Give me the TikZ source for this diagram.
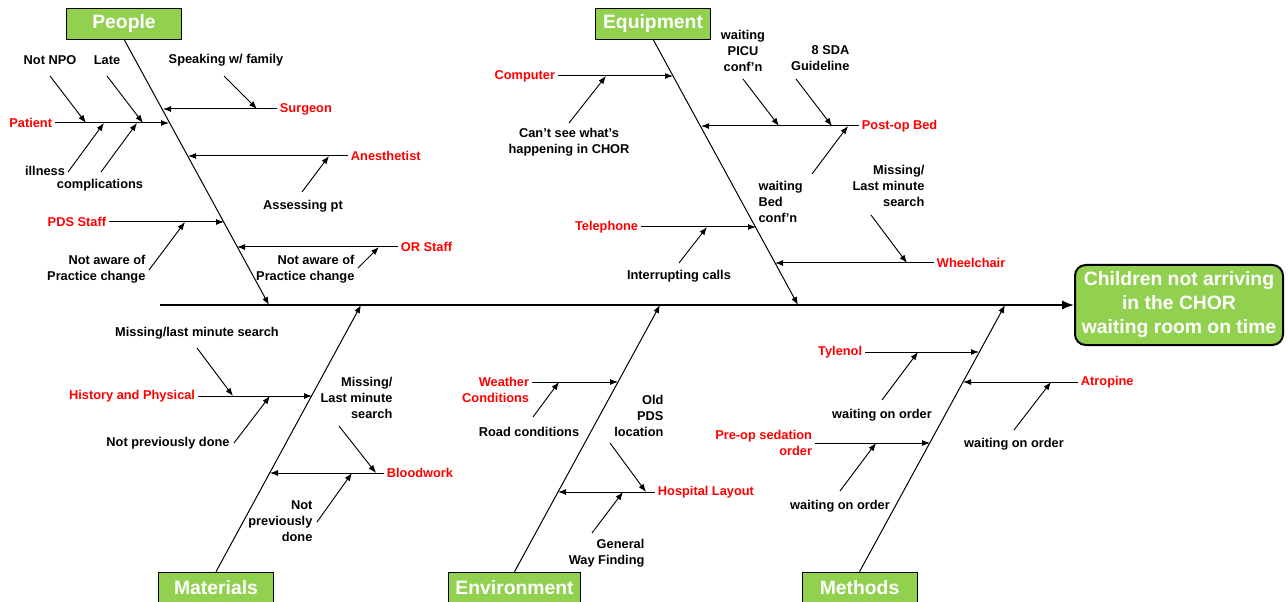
\documentclass[tikz,border=0pt]{standalone}
\usepackage{fontspec}
\setmainfont{Liberation Sans}
\usepackage{tikz}
\usetikzlibrary{arrows.meta,positioning}
\definecolor{boxgreen}{RGB}{146,208,80}
\tikzset{>={Latex[length=6pt,width=4.5pt]}}

\begin{document}
\begin{tikzpicture}[x=0.75pt,y=-0.75pt,
    cat/.style={draw,fill=boxgreen,text=white,font=\bfseries\fontsize{14.5}{18}\selectfont,minimum width=86.25pt,minimum height=23.25pt,inner ysep=0pt,inner xsep=5pt},
    effect/.style={draw,line width=1.5pt,rounded corners=8pt,fill=boxgreen,text=white,align=center,font=\bfseries\fontsize{14.5}{18}\selectfont,minimum width=156pt,minimum height=60pt,inner sep=0pt},
    cause/.style={text=red,font=\bfseries\fontsize{9.6}{12}\selectfont,inner sep=2pt},
    sub/.style={font=\bfseries\fontsize{9.6}{12}\selectfont,inner sep=1pt},
    spine/.style={-{Latex[length=9pt,width=7pt]},line width=1.5pt},
    bone/.style={->,line width=0.75pt},
    branch/.style={->,line width=0.75pt},
    twig/.style={->,line width=0.7pt}]
    \useasboundingbox (0,0) rectangle (1288,602);

    % head and spine
    \node[effect] (effect) at (1179,305) {Children not arriving\\in the CHOR\\waiting room on time};
    \coordinate (tail) at (160,305);
    \draw[spine] (tail) -- (effect.west);

    % People
    \node[cat] (people) at (124,23.5) {People};
    \coordinate (pplfoot) at (269,305);
    \draw[bone] (people.south) -- (pplfoot);
    \coordinate (surgeontip) at (163,109);
    \coordinate (patienttip) at (169,123);
    \coordinate (anesttip) at (188,156);
    \coordinate (pdstip) at (224,222);
    \coordinate (ortip) at (237,247);
    \node[cause,anchor=west] (surgeon) at (277,109) {Surgeon};
    \node[cause,anchor=east] (patient) at (55,123) {Patient};
    \node[cause,anchor=west] (anest) at (348,156) {Anesthetist};
    \node[cause,anchor=east] (pds) at (109,222) {PDS Staff};
    \node[cause,anchor=west] (orstaff) at (398,247) {OR Staff};
    \draw[branch] (surgeon.west) -- (surgeontip);
    \draw[branch] (patient.east) -- (patienttip);
    \draw[branch] (anest.west) -- (anesttip);
    \draw[branch] (pds.east) -- (pdstip);
    \draw[branch] (orstaff.west) -- (ortip);
    \node[sub] (notnpo) at (50,60) {Not NPO};
    \node[sub] (late) at (107,60) {Late};
    \node[sub] (illness) at (45,171) {illness};
    \node[sub] (complic) at (100,185) {complications};
    \node[sub] (speaking) at (226,60) {Speaking w/ family};
    \node[sub] (assessing) at (303,206) {Assessing pt};
    \node[sub,align=right,anchor=east] (pdsaware) at (147,269) {Not aware of\\Practice change};
    \node[sub,align=right,anchor=east] (oraware) at (356,269) {Not aware of\\Practice change};
    \coordinate (npoA) at (50,76);    \coordinate (npoB) at (86,123);
    \coordinate (lateA) at (107,76);  \coordinate (lateB) at (143,123);
    \coordinate (illA) at (68,172);   \coordinate (illB) at (104,123);
    \coordinate (compA) at (101,172); \coordinate (compB) at (137,123);
    \coordinate (speakA) at (224,76); \coordinate (speakB) at (257,109);
    \coordinate (assA) at (302,192);  \coordinate (assB) at (329,156);
    \coordinate (pdsA) at (149,270);  \coordinate (pdsB) at (185,222);
    \coordinate (orA) at (358,268);   \coordinate (orB) at (379,247);
    \draw[twig] (npoA) -- (npoB);
    \draw[twig] (lateA) -- (lateB);
    \draw[twig] (illA) -- (illB);
    \draw[twig] (compA) -- (compB);
    \draw[twig] (speakA) -- (speakB);
    \draw[twig] (assA) -- (assB);
    \draw[twig] (pdsA) -- (pdsB);
    \draw[twig] (orA) -- (orB);

    % Equipment
    \node[cat] (equip) at (653,23.5) {Equipment};
    \coordinate (eqfoot) at (798,305);
    \draw[bone] (equip.south) -- (eqfoot);
    \coordinate (computertip) at (673,76);
    \coordinate (postoptip) at (701,126);
    \coordinate (phonetip) at (756,227);
    \coordinate (wheeltip) at (775,263);
    \node[cause,anchor=east] (computer) at (558,76) {Computer};
    \node[cause,anchor=west] (postop) at (859,126) {Post-op Bed};
    \node[cause,anchor=east] (phone) at (641,227) {Telephone};
    \node[cause,anchor=west] (wheel) at (934,263) {Wheelchair};
    \draw[branch] (computer.east) -- (computertip);
    \draw[branch] (postop.west) -- (postoptip);
    \draw[branch] (phone.east) -- (phonetip);
    \draw[branch] (wheel.west) -- (wheeltip);
    \node[sub,align=center] (cantsee) at (569,142.5) {Can’t see what’s\\happening in CHOR};
    \node[sub,align=center] (picu) at (743,50.5) {waiting\\PICU\\conf’n};
    \node[sub,align=right,anchor=east] (sda) at (851,58) {8 SDA\\Guideline};
    \node[sub,align=left,anchor=west] (bedconf) at (757,201.5) {waiting\\Bed\\conf’n};
    \node[sub,align=right,anchor=east] (eqmissing) at (926,186) {Missing/\\Last minute\\search};
    \node[sub] (calls) at (679,276) {Interrupting calls};
    \coordinate (cantA) at (569,123);   \coordinate (cantB) at (606,76);
    \coordinate (picuA) at (743,79);    \coordinate (picuB) at (779,126);
    \coordinate (sdaA) at (796,79);     \coordinate (sdaB) at (832,126);
    \coordinate (bedA) at (812,174);    \coordinate (bedB) at (848,126);
    \coordinate (callsA) at (679,263);  \coordinate (callsB) at (707,227);
    \coordinate (wheelA) at (871,215);  \coordinate (wheelB) at (907,263);
    \draw[twig] (cantA) -- (cantB);
    \draw[twig] (picuA) -- (picuB);
    \draw[twig] (sdaA) -- (sdaB);
    \draw[twig] (bedA) -- (bedB);
    \draw[twig] (callsA) -- (callsB);
    \draw[twig] (wheelA) -- (wheelB);

    % Materials
    \node[cat] (materials) at (216,587.5) {Materials};
    \coordinate (matfoot) at (361,305);
    \draw[bone] (materials.north) -- (matfoot);
    \coordinate (hptip) at (312,396);
    \coordinate (bloodtip) at (270,473);
    \node[cause,anchor=east] (hp) at (198,396) {History and Physical};
    \node[cause,anchor=west] (blood) at (384,473) {Bloodwork};
    \draw[branch] (hp.east) -- (hptip);
    \draw[branch] (blood.west) -- (bloodtip);
    \node[sub] (hpmissing) at (197,333) {Missing/last minute search};
    \node[sub] (hpprev) at (168,443) {Not previously done};
    \node[sub,align=right,anchor=east] (bwmissing) at (394,398) {Missing/\\Last minute\\search};
    \node[sub,align=right,anchor=east] (bwprev) at (314,521) {Not\\previously\\done};
    \coordinate (hpmissA) at (197,348); \coordinate (hpmissB) at (233,396);
    \coordinate (hpprevA) at (234,443); \coordinate (hpprevB) at (270,396);
    \coordinate (bwmissA) at (339,426); \coordinate (bwmissB) at (376,473);
    \coordinate (bwprevA) at (317,522); \coordinate (bwprevB) at (352,473);
    \draw[twig] (hpmissA) -- (hpmissB);
    \draw[twig] (hpprevA) -- (hpprevB);
    \draw[twig] (bwmissA) -- (bwmissB);
    \draw[twig] (bwprevA) -- (bwprevB);

    % Environment
    \node[cat] (environ) at (514.5,587.5) {Environment};
    \coordinate (envfoot) at (660,305);
    \draw[bone] (environ.north) -- (envfoot);
    \coordinate (weathertip) at (618,382);
    \coordinate (layouttip) at (558,492);
    \node[cause,align=right,anchor=east] (weather) at (532,389.5) {Weather\\Conditions};
    \node[cause,anchor=west] (layout) at (655,492) {Hospital Layout};
    \draw[branch] (weather.east |- weathertip) -- (weathertip);
    \draw[branch] (layout.west) -- (layouttip);
    \node[sub] (road) at (529,432) {Road conditions};
    \node[sub,align=right,anchor=east] (oldpds) at (665,415.5) {Old\\PDS\\location};
    \node[sub,align=right,anchor=east] (wayfind) at (646,553) {General\\Way Finding};
    \coordinate (roadA) at (533,417); \coordinate (roadB) at (559,382);
    \coordinate (oldA) at (610,443);  \coordinate (oldB) at (646,492);
    \coordinate (wayA) at (592,533);  \coordinate (wayB) at (623,492);
    \draw[twig] (roadA) -- (roadB);
    \draw[twig] (oldA) -- (oldB);
    \draw[twig] (wayA) -- (wayB);

    % Methods
    \node[cat] (methods) at (859.5,587.5) {Methods};
    \coordinate (methfoot) at (1005,305);
    \draw[bone] (methods.north) -- (methfoot);
    \coordinate (tylenoltip) at (979,352);
    \coordinate (atropinetip) at (963,382);
    \coordinate (preoptip) at (930,443);
    \node[cause,anchor=east] (tylenol) at (865,352) {Tylenol};
    \node[cause,anchor=west] (atropine) at (1078,382) {Atropine};
    \node[cause,align=right,anchor=east] (preop) at (815,443) {Pre-op sedation\\order};
    \draw[branch] (tylenol.east) -- (tylenoltip);
    \draw[branch] (atropine.west) -- (atropinetip);
    \draw[branch] (preop.east) -- (preoptip);
    \node[sub] (tylwait) at (882,415) {waiting on order};
    \node[sub] (atrwait) at (1014,444) {waiting on order};
    \node[sub] (prewait) at (840,506) {waiting on order};
    \coordinate (tylA) at (882,400);  \coordinate (tylB) at (918,352);
    \coordinate (atrA) at (1014,430); \coordinate (atrB) at (1051,382);
    \coordinate (preA) at (840,491);  \coordinate (preB) at (876,443);
    \draw[twig] (tylA) -- (tylB);
    \draw[twig] (atrA) -- (atrB);
    \draw[twig] (preA) -- (preB);
\end{tikzpicture}
\end{document}
